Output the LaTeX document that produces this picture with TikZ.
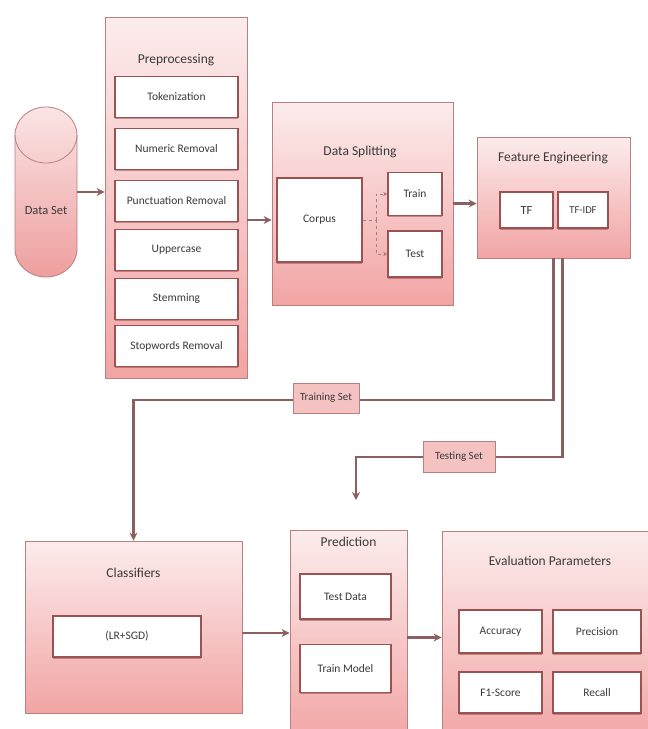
\documentclass[tikz,border=0pt]{standalone}
\usepackage{fontspec}
\setmainfont{Carlito}
\usetikzlibrary{arrows.meta,calc,shadows}
\definecolor{bordc}{HTML}{B88080}
\definecolor{innerb}{HTML}{9A5252}
\definecolor{linec}{HTML}{8A6060}
\definecolor{pinktop}{HTML}{FCECEC}
\definecolor{pinkbot}{HTML}{F2A4A4}
\definecolor{cyltop}{HTML}{FBE4E4}
\definecolor{cylbot}{HTML}{EE9E9E}
\definecolor{labfill}{HTML}{F5C2C2}
\definecolor{txt}{HTML}{3A3A3A}
\tikzset{
  outerbox/.style={rectangle, draw=bordc, line width=0.8pt, top color=pinktop, bottom color=pinkbot, inner sep=0pt},
  innerbox/.style={rectangle, draw=innerb, line width=1.5pt, fill=white, inner sep=0pt, text=txt,
    font=\fontsize{11.5}{13}\selectfont,
    drop shadow={shadow xshift=0pt, shadow yshift=-1.6pt, fill=innerb, opacity=0.55}},
  ttl/.style={text=txt, font=\fontsize{13.5}{15}\selectfont, inner sep=1pt},
  conn/.style={draw=linec, line width=2.6pt, -{Stealth[length=8pt,width=8pt]}},
  dashconn/.style={draw=linec!80, line width=0.6pt, dashed, -{Stealth[length=4pt,width=4pt]}},
  setlabel/.style={rectangle, draw=bordc, line width=0.8pt, fill=labfill, inner sep=0pt, text=txt,
    font=\fontsize{11}{12}\selectfont},
}
\begin{document}
\begin{tikzpicture}[x=1pt,y=-1pt]
\useasboundingbox (0,0) rectangle (648,729);
\fill[white] (0,0) rectangle (648,729);
\clip (0,0) rectangle (648,729);

% Data Set cylinder
\path[top color=cyltop, bottom color=cylbot, draw=bordc, line width=0.8pt]
  (15,135) -- (15,249) arc[start angle=180, end angle=360, x radius=31pt, y radius=28pt]
  -- (77,135) arc[start angle=0, end angle=180, x radius=31pt, y radius=28pt] -- cycle;
\draw[bordc, line width=0.8pt] (15,135) arc[start angle=180, end angle=360, x radius=31pt, y radius=28pt];
\node[minimum width=62pt, minimum height=170pt, inner sep=0pt] (ds) at (46,192) {};
\node[ttl, font=\fontsize{12.5}{14}\selectfont] (dstext) at (46,210) {Data Set};

% Preprocessing
\node[outerbox, minimum width=142pt, minimum height=361pt] (pre) at (176,197.5) {};
\node[ttl] (pretitle) at (176,60) {Preprocessing};
\node[innerbox, minimum width=123pt, minimum height=41pt] (tok) at (176.5,97) {Tokenization};
\node[innerbox, minimum width=123pt, minimum height=41pt] (num) at (176.5,149) {Numeric Removal};
\node[innerbox, minimum width=123pt, minimum height=41pt] (pun) at (176.5,201) {Punctuation Removal};
\node[innerbox, minimum width=123pt, minimum height=41pt] (upp) at (176.5,250) {Uppercase};
\node[innerbox, minimum width=123pt, minimum height=41pt] (stem) at (176.5,299) {Stemming};
\node[innerbox, minimum width=123pt, minimum height=41pt] (stop) at (176.5,346) {Stopwords Removal};

% Data Splitting
\node[outerbox, minimum width=181pt, minimum height=203pt] (dsp) at (362.5,203.5) {};
\node[ttl] (dsptitle) at (360,152) {Data Splitting};
\node[innerbox, minimum width=85pt, minimum height=84pt] (corpus) at (319.5,220) {Corpus};
\node[innerbox, minimum width=54pt, minimum height=43pt] (train) at (415,194) {Train};
\node[innerbox, minimum width=54pt, minimum height=46pt] (test) at (415,254) {Test};
\coordinate (split) at (376,220);
\draw[dashconn, -] (corpus.east) -- (split);
\draw[dashconn] (split) |- (train.west);
\draw[dashconn] (split) |- (test.west);

% Feature Engineering
\node[outerbox, minimum width=153pt, minimum height=121pt] (fe) at (553.5,197.5) {};
\node[ttl] (fetitle) at (553,158) {Feature Engineering};
\node[innerbox, minimum width=53pt, minimum height=36pt, font=\fontsize{12.5}{14}\selectfont] (tf) at (526.5,210) {TF};
\node[innerbox, minimum width=50pt, minimum height=36pt, font=\fontsize{10.5}{12}\selectfont] (tfidf) at (583,210) {TF-IDF};

% Classifiers
\node[outerbox, minimum width=217pt, minimum height=172pt] (cls) at (133.5,627) {};
\node[ttl] (clstitle) at (133.5,573) {Classifiers};
\node[innerbox, minimum width=148pt, minimum height=41pt] (lr) at (127,636.5) {(LR+SGD)};

% Prediction
\node[outerbox, minimum width=117pt, minimum height=215pt] (pred) at (348.5,637.5) {};
\node[ttl] (predtitle) at (348.5,542) {Prediction};
\node[innerbox, minimum width=91pt, minimum height=45pt] (tdata) at (345.5,596.5) {Test Data};
\node[innerbox, minimum width=91pt, minimum height=48pt] (tmodel) at (345.5,668.5) {Train Model};

% Evaluation Parameters
\node[outerbox, minimum width=218pt, minimum height=214pt] (ev) at (551,638) {};
\node[ttl] (evtitle) at (550,561) {Evaluation Parameters};
\node[innerbox, minimum width=83pt, minimum height=43pt] (acc) at (500.5,631.5) {Accuracy};
\node[innerbox, minimum width=88pt, minimum height=43pt] (prec) at (597,631.5) {Precision};
\node[innerbox, minimum width=83pt, minimum height=41pt] (f1) at (500.5,692.5) {F1-Score};
\node[innerbox, minimum width=88pt, minimum height=41pt] (rec) at (597,692.5) {Recall};

% Main flow arrows
\draw[conn] (ds.east) -- (ds.east -| pre.west);
\draw[conn] (pre.east |- corpus.west) -- (corpus.west -| dsp.west);
\draw[conn] (dsp.east) -- (dsp.east -| fe.west);
\coordinate (clsout) at ($(cls.east)+(0,6)$);
\draw[conn] (clsout) -- (clsout -| pred.west);
\draw[conn] (pred.east) -- (pred.east -| ev.west);

% Training / Testing set connectors
\coordinate (fe1) at (553.5,258);
\coordinate (fe2) at (562.5,258);
\coordinate (trk) at (133.5,400);
\coordinate (tsk) at (356,457);
\coordinate (tsend) at (356,500);
\draw[conn] (fe1) |- (trk) -- (cls.north);
\draw[conn] (fe2) |- (tsk) -- (tsend);
\node[setlabel, minimum width=66pt, minimum height=30pt] (trl) at (326,398) {Training Set};
\node[setlabel, minimum width=72pt, minimum height=31pt] (tsl) at (459,456.5) {Testing Set};
\end{tikzpicture}
\end{document}
